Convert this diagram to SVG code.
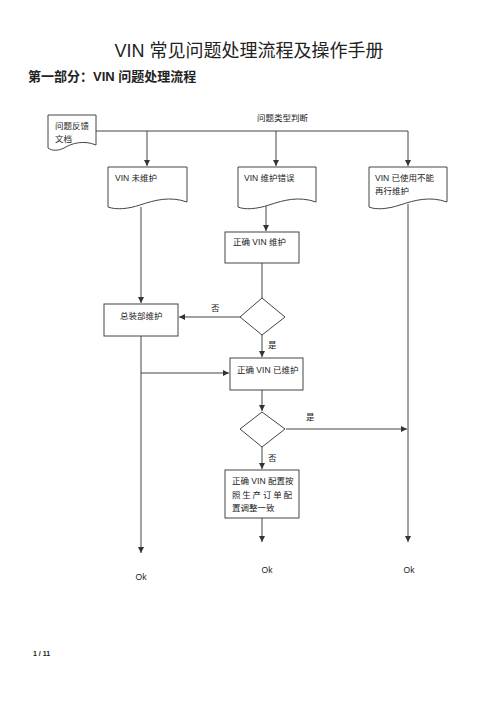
<svg xmlns="http://www.w3.org/2000/svg" width="500" height="707" viewBox="0 0 500 707">
<defs>
<marker id="ah" markerWidth="8" markerHeight="8" refX="6" refY="3" orient="auto" markerUnits="userSpaceOnUse">
<path d="M0,0 L6,3 L0,6 Z" fill="#333"/>
</marker>
<style>
.t{font-family:"Liberation Sans","Noto Sans CJK SC",sans-serif;fill:#222;}
.s{fill:#fff;stroke:#444;stroke-width:1;}
.c{fill:none;stroke:#444;stroke-width:1;}
.a{marker-end:url(#ah);}
.n{font-size:8.5px;}
</style>
</defs>
<rect width="500" height="707" fill="#fff"/>
<text class="t" x="249" y="57" font-size="18" text-anchor="middle">VIN 常见问题处理流程及操作手册</text>
<text class="t" x="28" y="81" font-size="13" font-weight="bold">第一部分：VIN 问题处理流程</text>

<g id="connectors">
<path class="c" d="M96,131 H408"/>
<path class="c a" d="M147,131 V166"/>
<path class="c a" d="M276,131 V166"/>
<path class="c a" d="M408,131 V166"/>
<path class="c a" d="M141,207 V303"/>
<path class="c a" d="M266,206 V231"/>
<path class="c" d="M262,263 V298"/>
<path class="c a" d="M240,317 H179"/>
<path class="c a" d="M262,335 V357"/>
<path class="c a" d="M141,336 V553"/>
<path class="c a" d="M141,373 H229"/>
<path class="c a" d="M262,390 V411"/>
<path class="c a" d="M286,429 H407"/>
<path class="c a" d="M262,447 V469"/>
<path class="c a" d="M262,518 V542"/>
<path class="c a" d="M408,204 V542"/>
<text class="t n" x="211" y="311">否</text>
<text class="t n" x="268" y="348">是</text>
<text class="t n" x="306" y="420">是</text>
<text class="t n" x="268" y="461">否</text>
<text class="t n" x="257" y="121">问题类型判断</text>
</g>

<g id="doc_feedback">
<path class="s" d="M48,115 H96 V145 C84,140 72,143 64,148 C58,151 52,151 48,148 Z"/>
<text class="t n" x="55" y="129">问题反馈</text>
<text class="t n" x="55" y="142">文档</text>
</g>
<g id="doc_unmaintained">
<path class="s" d="M108,167 H187 V202 C170,196 155,200 140,205 C128,209 116,210 108,207 Z"/>
<text class="t n" x="115" y="181">VIN 未维护</text>
</g>
<g id="doc_wrong">
<path class="s" d="M238,167 H316 V202 C299,196 284,200 269,205 C257,209 245,210 238,207 Z"/>
<text class="t n" x="244" y="181">VIN 维护错误</text>
</g>
<g id="doc_used">
<path class="s" d="M369,167 H447 V202 C430,196 415,200 400,205 C388,209 376,210 369,207 Z"/>
<text class="t n" x="375" y="181">VIN 已使用不能</text>
<text class="t n" x="375" y="194">再行维护</text>
</g>
<g id="box_correct">
<rect class="s" x="225" y="232" width="74" height="31"/>
<text class="t n" x="233" y="245">正确 VIN 维护</text>
</g>
<g id="dec1">
<path class="s" d="M262,298 L285,317 L262,335 L240,317 Z"/>
</g>
<g id="box_assembly">
<rect class="s" x="104" y="304" width="74" height="32"/>
<text class="t n" x="120" y="319">总装部维护</text>
</g>
<g id="box_maintained">
<rect class="s" x="230" y="358" width="73" height="32"/>
<text class="t n" x="237" y="373">正确 VIN 已维护</text>
</g>
<g id="dec2">
<path class="s" d="M262,412 L285,429 L262,447 L240,429 Z"/>
</g>
<g id="box_config">
<rect class="s" x="225" y="470" width="74" height="48"/>
<text class="t n" x="232" y="484">正确 VIN 配置按</text>
<text class="t n" x="232" y="498" textLength="60">照生产订单配</text>
<text class="t n" x="232" y="511">置调整一致</text>
</g>
<g id="ok_labels">
<text class="t n" x="141" y="580" text-anchor="middle">Ok</text>
<text class="t n" x="267" y="573" text-anchor="middle">Ok</text>
<text class="t n" x="409" y="573" text-anchor="middle">Ok</text>
</g>
<text class="t" x="33" y="656" font-size="7" font-weight="bold">1 / 11</text>
</svg>
